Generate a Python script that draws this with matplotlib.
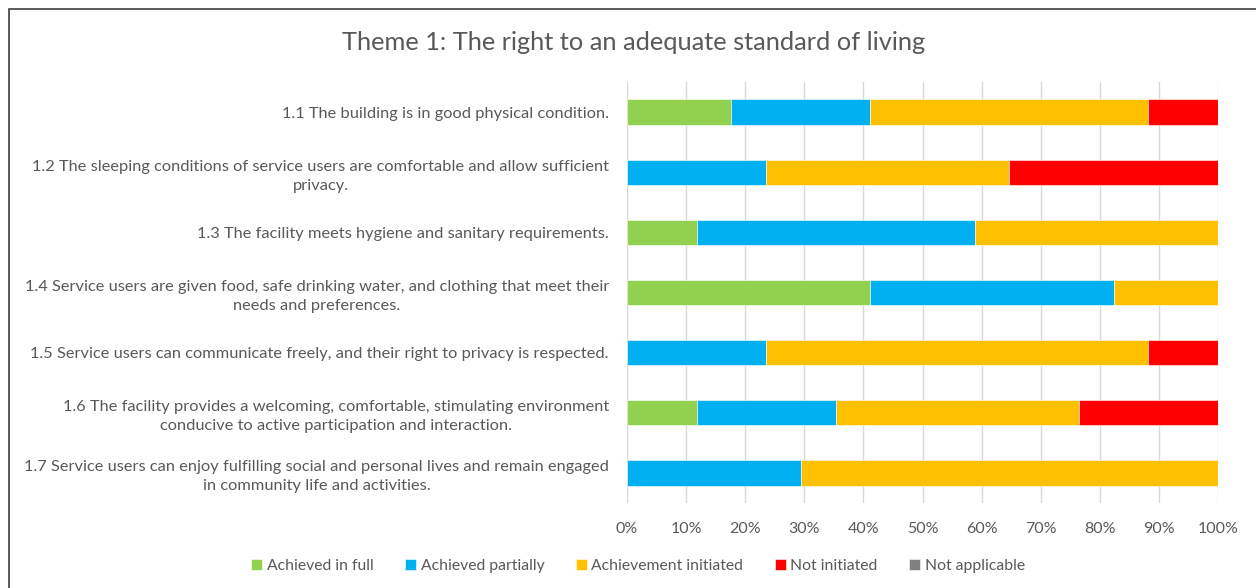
import matplotlib.pyplot as plt
from matplotlib.patches import Rectangle
from matplotlib.ticker import PercentFormatter

plt.rcParams['font.family'] = ['Lato', 'DejaVu Sans']

labels = [
    '1.1 The building is in good physical condition.',
    '1.2 The sleeping conditions of service users are comfortable and allow sufficient\nprivacy.',
    '1.3 The facility meets hygiene and sanitary requirements.',
    '1.4 Service users are given food, safe drinking water, and clothing that meet their\nneeds and preferences.',
    '1.5 Service users can communicate freely, and their right to privacy is respected.',
    '1.6 The facility provides a welcoming, comfortable, stimulating environment\nconducive to active participation and interaction.',
    '1.7 Service users can enjoy fulfilling social and personal lives and remain engaged\nin community life and activities.',
]
series = ['Achieved in full', 'Achieved partially', 'Achievement initiated',
          'Not initiated', 'Not applicable']
colors = ['#92D050', '#00B0F0', '#FFC000', '#FF0000', '#808080']

# share of facilities (%) per standard
full      = [17.6, 0.0, 11.8, 41.2, 0.0, 11.8, 0.0]
partial   = [23.5, 23.5, 47.1, 41.2, 23.5, 23.5, 29.4]
initiated = [47.1, 41.2, 41.2, 17.6, 64.7, 41.2, 70.6]
not_init  = [11.8, 35.3, 0.0, 0.0, 11.8, 23.5, 0.0]
not_appl  = [0.0, 0.0, 0.0, 0.0, 0.0, 0.0, 0.0]
values = [full, partial, initiated, not_init, not_appl]

text_c = '#595959'

fig = plt.figure(figsize=(12.56, 5.88), dpi=100)
ax = fig.add_axes([627 / 1256, 1 - 503 / 588, 591 / 1256, 421 / 588])

y = list(range(len(labels)))
left = [0.0] * len(labels)
for name, vals, col in zip(series, values, colors):
    ax.barh(y, vals, left=left, height=0.42, color=col, label=name,
            edgecolor='white', linewidth=0.4, zorder=3)
    left = [a + b for a, b in zip(left, vals)]

ax.set_ylim(len(labels) - 0.5, -0.5)
ax.set_xlim(0, 100)
ax.set_xticks(range(0, 101, 10))
ax.xaxis.set_major_formatter(PercentFormatter(decimals=0))
ax.set_yticks(y)
ax.set_yticklabels(labels, multialignment='center', linespacing=1.45)
ax.tick_params(axis='y', length=0, labelsize=11.8, colors=text_c, pad=13)
ax.tick_params(axis='x', length=0, labelsize=11.5, colors=text_c, pad=14)
ax.grid(axis='x', color='#D9D9D9', linewidth=1, zorder=0)
for s in ax.spines.values():
    s.set_visible(False)

fig.text(634 / 1256, 1 - 42 / 588, 'Theme 1: The right to an adequate standard of living',
         ha='center', va='center', fontsize=18.3, color=text_c)

fig.legend(loc='center', bbox_to_anchor=(638 / 1256, 1 - 566 / 588), ncol=5,
           frameon=False, fontsize=11.3, handlelength=0.7, handleheight=0.7,
           handletextpad=0.3, columnspacing=2.0, labelcolor=text_c)

fig.patches.append(Rectangle((9 / 1256, -0.1), 1.2, 1 - 9 / 588 + 0.1,
                             transform=fig.transFigure, fill=False,
                             edgecolor='#404040', linewidth=1.2))

fig.savefig('out.png', dpi=100)
